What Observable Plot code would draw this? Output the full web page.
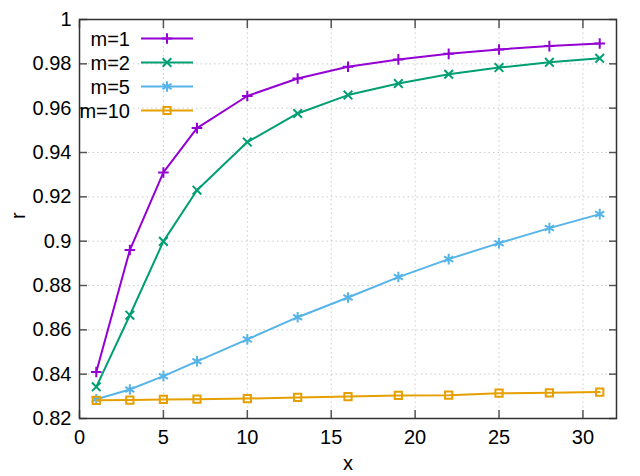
<!DOCTYPE html>
<html>
<head>
<meta charset="utf-8">
<script src="https://cdn.jsdelivr.net/npm/d3@7"></script>
<script src="https://cdn.jsdelivr.net/npm/@observablehq/plot@0.6"></script>
<style>
  html, body { margin: 0; padding: 0; background: #fff; }
  #chart svg { display: block; }
</style>
</head>
<body>
<div id="chart"></div>
<script>
const xs = [1, 3, 5, 7, 10, 13, 16, 19, 22, 25, 28, 31];
const m1 = [0.841, 0.896, 0.931, 0.951, 0.9655, 0.9734, 0.9787, 0.982, 0.9845, 0.9865, 0.988, 0.9892];
const m2 = [0.8343, 0.8666, 0.8999, 0.923, 0.9447, 0.9576, 0.9659, 0.9711, 0.9753, 0.9783, 0.9807, 0.9825];
const m5 = [0.8287, 0.8331, 0.8391, 0.8458, 0.8557, 0.8657, 0.8746, 0.8838, 0.8919, 0.8991, 0.9059, 0.9122];
const m10 = [0.8282, 0.8283, 0.8286, 0.8287, 0.829, 0.8295, 0.8299, 0.8304, 0.8305, 0.8314, 0.8316, 0.8319];
const seriesNames = ["m=1", "m=2", "m=5", "m=10"];
const seriesValues = [m1, m2, m5, m10];
const colors = ["#9400d3", "#009e73", "#56b4e9", "#e69f00"];
const symbols = ["plus", "times", "asterisk", "square2"];
const radii = [3.5, 4, 5, 4.6];
const xTicks = [0, 5, 10, 15, 20, 25, 30];
const yTicks = [0.82, 0.84, 0.86, 0.88, 0.9, 0.92, 0.94, 0.96, 0.98, 1];

const series = seriesNames.map((name, i) => xs.map((x, j) => ({x, r: seriesValues[i][j], m: name})));

const font = "'Liberation Sans', Arial, sans-serif";
const marks = [
  Plot.gridX(xTicks, {stroke: "#aaa", strokeOpacity: 0.6, strokeDasharray: "1.5,3", strokeWidth: 1}),
  Plot.gridY(yTicks, {stroke: "#aaa", strokeOpacity: 0.6, strokeDasharray: "1.5,3", strokeWidth: 1}),
  Plot.axisX(xTicks, {anchor: "bottom", tickSize: 0, tickPadding: 11, fontSize: 20, fill: "#000", label: null}),
  Plot.axisY(yTicks, {anchor: "left", tickSize: 0, tickPadding: 8, fontSize: 20, fill: "#000", label: null, tickFormat: d3.format("~g")}),
  Plot.axisX(xTicks, {anchor: "bottom", tickSize: 8, dy: -8, text: null, label: null, stroke: "#555", strokeWidth: 1.5}),
  Plot.axisX(xTicks, {anchor: "top", tickSize: 8, dy: 8, text: null, label: null, stroke: "#555", strokeWidth: 1.5}),
  Plot.axisY(yTicks, {anchor: "left", tickSize: 8, dx: 8, text: null, label: null, stroke: "#555", strokeWidth: 1.5}),
  Plot.axisY(yTicks, {anchor: "right", tickSize: 8, dx: -8, text: null, label: null, stroke: "#555", strokeWidth: 1.5}),
  Plot.frame({stroke: "#333", strokeWidth: 1.5}),
  Plot.text(["x"], {frameAnchor: "bottom", dy: 51, text: d => d, fontSize: 20, fill: "#000"}),
  Plot.text(["r"], {frameAnchor: "left", dx: -61, rotate: -90, text: d => d, fontSize: 20, fill: "#000"})
];
series.forEach((data, i) => {
  marks.push(Plot.line(data, {x: "x", y: "r", stroke: colors[i], strokeWidth: 2}));
  marks.push(Plot.dot(data, {x: "x", y: "r", stroke: colors[i], symbol: () => symbols[i], r: radii[i], strokeWidth: 2}));
});

const chart = Plot.plot({
  width: 640,
  height: 476,
  marginLeft: 79,
  marginRight: 24,
  marginTop: 19,
  marginBottom: 58,
  style: {fontFamily: font, background: "#fff"},
  x: {domain: [0, 32]},
  y: {domain: [0.82, 1]},
  symbol: {type: "identity"},
  marks
});
document.getElementById("chart").appendChild(chart);

// legend (inside plot, top-left)
const svg = d3.select(chart);
const g = svg.append("g").attr("font-family", font).attr("font-size", 20);
const symMap = {plus: d3.symbolPlus, times: d3.symbolTimes, asterisk: d3.symbolAsterisk, square2: d3.symbolSquare2};
seriesNames.forEach((name, i) => {
  const yy = 38.5 + i * 24;
  g.append("text").attr("x", 130).attr("y", yy).attr("dy", "0.35em").attr("text-anchor", "end").attr("fill", "#000").text(name);
  g.append("line").attr("x1", 141).attr("x2", 193).attr("y1", yy).attr("y2", yy).attr("stroke", colors[i]).attr("stroke-width", 2);
  g.append("path").attr("transform", `translate(167,${yy})`)
    .attr("d", d3.symbol(symMap[symbols[i]], Math.PI * radii[i] * radii[i])())
    .attr("fill", "none").attr("stroke", colors[i]).attr("stroke-width", 2);
});
</script>
</body>
</html>
